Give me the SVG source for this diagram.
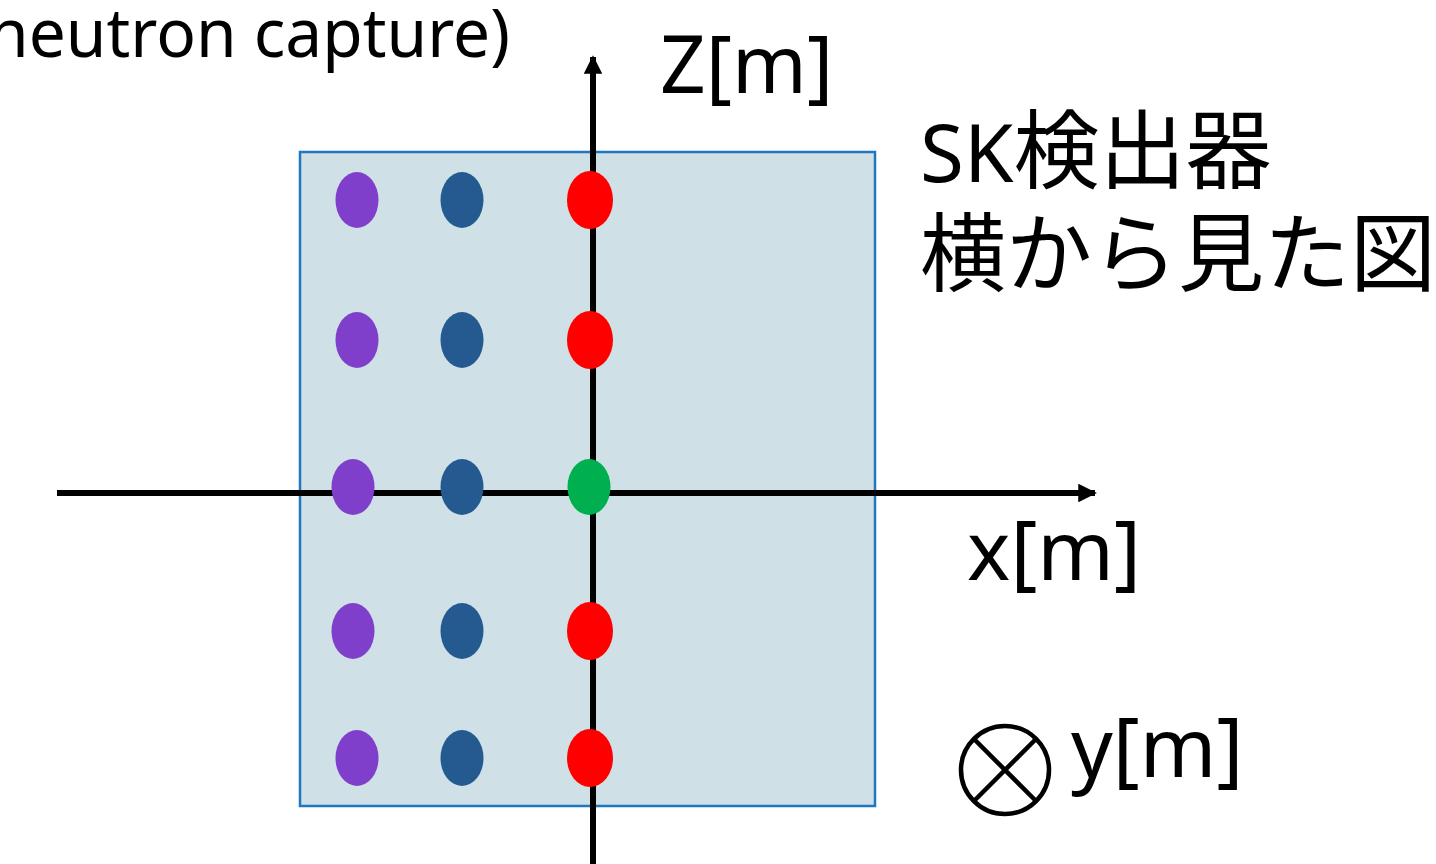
<svg xmlns="http://www.w3.org/2000/svg" width="1436" height="864" viewBox="0 0 1436 864">
  <style>
    .lbl { font-family: "Noto Sans", "Noto Sans CJK JP", sans-serif; fill: #000; }
    .axis { stroke: #000; stroke-width: 6; fill: none; }
    .pu { fill: #7F3FCA; }
    .bl { fill: #255A91; }
    .rd { fill: #FF0000; }
    .gr { fill: #00B050; }
  </style>
  <defs>
    <marker id="arrow" viewBox="0 0 10 10" refX="9" refY="5" markerWidth="3.1" markerHeight="3.1" markerUnits="strokeWidth" orient="auto">
      <path d="M0,0 L10,5 L0,10 Z" fill="#000"/>
    </marker>
  </defs>

  <!-- caption fragment at top left -->
  <text class="lbl" x="-12" y="57" font-size="68" textLength="522" lengthAdjust="spacingAndGlyphs">neutron capture)</text>

  <!-- detector body -->
  <g id="detector">
    <rect x="300" y="152" width="575" height="654" fill="#CFE1E7" stroke="#1F77C0" stroke-width="2.5"/>
  </g>

  <!-- coordinate axes -->
  <g id="connectors">
    <line class="axis" x1="593" y1="864" x2="593" y2="57" marker-end="url(#arrow)"/>
    <line class="axis" x1="57" y1="493" x2="1095" y2="493" marker-end="url(#arrow)"/>
  </g>

  <!-- source positions -->
  <g id="points">
    <ellipse class="pu" cx="357" cy="200" rx="21.5" ry="28"/>
    <ellipse class="bl" cx="462" cy="200" rx="21.5" ry="28"/>
    <ellipse class="rd" cx="590" cy="200" rx="23" ry="29"/>

    <ellipse class="pu" cx="357" cy="340" rx="21.5" ry="28"/>
    <ellipse class="bl" cx="462" cy="340" rx="21.5" ry="28"/>
    <ellipse class="rd" cx="590" cy="340" rx="23" ry="29"/>

    <ellipse class="pu" cx="353" cy="487" rx="21.5" ry="28"/>
    <ellipse class="bl" cx="462" cy="487" rx="21.5" ry="28"/>
    <ellipse class="gr" cx="589" cy="487" rx="21.5" ry="28"/>

    <ellipse class="pu" cx="353" cy="631" rx="21.5" ry="28"/>
    <ellipse class="bl" cx="462" cy="631" rx="21.5" ry="28"/>
    <ellipse class="rd" cx="590" cy="631" rx="23" ry="29"/>

    <ellipse class="pu" cx="357" cy="758" rx="21.5" ry="28"/>
    <ellipse class="bl" cx="462" cy="758" rx="21.5" ry="28"/>
    <ellipse class="rd" cx="590" cy="758" rx="23" ry="29"/>
  </g>

  <!-- axis labels -->
  <g id="label-z">
    <text class="lbl" x="660" y="93" font-size="80">Z[m]</text>
  </g>
  <g id="label-x">
    <text class="lbl" x="967" y="580" font-size="82">x[m]</text>
  </g>
  <g id="label-y">
    <circle cx="1005" cy="770" r="44" fill="none" stroke="#000" stroke-width="4.5"/>
    <line x1="974" y1="739" x2="1036" y2="801" stroke="#000" stroke-width="4.5"/>
    <line x1="1036" y1="739" x2="974" y2="801" stroke="#000" stroke-width="4.5"/>
    <text class="lbl" x="1071" y="777" font-size="82">y[m]</text>
  </g>

  <!-- title -->
  <g id="title">
    <text class="lbl" x="920" y="182" font-size="86"><tspan font-size="80">SK</tspan>検出器</text>
    <text class="lbl" x="920" y="285" font-size="86">横から見た図</text>
  </g>
</svg>
